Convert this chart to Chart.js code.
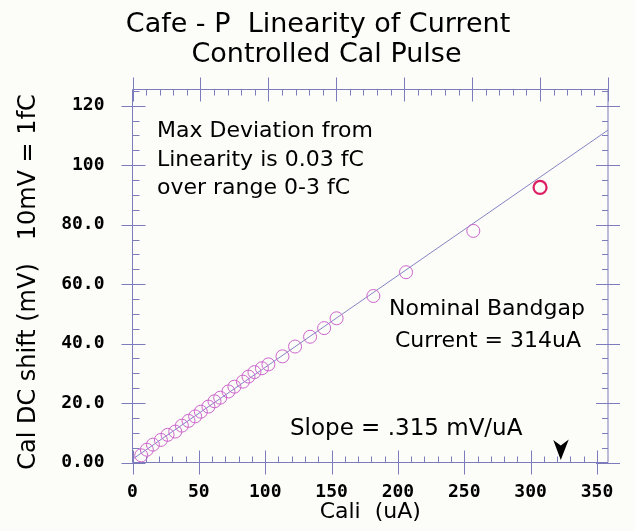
<!DOCTYPE html>
<html>
<head>
<meta charset="utf-8">
<script src="https://cdn.jsdelivr.net/npm/chart.js@4.4.1/dist/chart.umd.min.js"></script>
<style>
html,body{margin:0;padding:0;background:#fcfcf8;}
canvas{display:block;}
</style>
</head>
<body>
<canvas id="c" width="635" height="531"></canvas>
<script>
// ---- text ----
const titleLines = ['Cafe - P  Linearity of Current', 'Controlled Cal Pulse'];
const xTitle = 'Cali  (uA)';
const yTitle = 'Cal DC shift (mV)   10mV = 1fC';
const noteDeviation = ['Max Deviation from', 'Linearity is 0.03 fC', 'over range 0-3 fC'];
const noteBandgap = ['Nominal Bandgap', 'Current = 314uA'];
const noteSlope = ['Slope = .315 mV/uA'];

// ---- axes ----
const xMin = 0, xMax = 358.3;
const yMin = 0, yMax = 125.45;
const xTickValues = [0, 50, 100, 150, 200, 250, 300, 350];
const xTickLabels = ['0', '50', '100', '150', '200', '250', '300', '350'];
const yTickValues = [0, 20, 40, 60, 80, 100, 120];
const yTickLabels = ['0.00', '20.0', '40.0', '60.0', '80.0', '100', '120'];
const xMinorStep = 10;
const yMinorStep = 5;
const topAxisMax = 7;
const topMinorStep = 0.2;

// ---- data ----
const caliCurrent = [6.6, 10.8, 15.4, 21.4, 26.4, 32.2, 37.2, 42.2, 47.2, 51.5, 57.2, 61.8, 66.1, 72.3, 76.8, 83.2, 87.4, 91.9, 97.5, 102.4, 113.0, 122.5, 133.8, 144.4, 153.8, 181.5, 206.1, 256.8, 307.1];
const dcShift     = [2.4, 4.3, 6.0, 7.6, 9.3, 10.4, 12.4, 14.0, 15.5, 17.1, 18.8, 20.6, 21.8, 23.9, 25.5, 27.2, 28.9, 30.4, 31.7, 33.0, 35.7, 39.0, 42.3, 45.2, 48.5, 56.0, 64.0, 77.9, 92.5];
const fitCurrent = [0, 358.3];
const fitShift   = [1.1, 111.8];
const bandgapArrowCurrent = [322.7];

const AXIS = '#7c7cbc';
const BG = '#fcfcf8';

const framePlugin = {
  id: 'frame',
  beforeDraw(chart) {
    const ctx = chart.ctx;
    ctx.save();
    ctx.fillStyle = BG;
    ctx.fillRect(0, 0, chart.width, chart.height);
    ctx.restore();
  },
  beforeDatasetsDraw(chart) {
    const {ctx, chartArea: a, scales} = chart;
    const xs = scales.x, ys = scales.y, xt = scales.x2;
    ctx.save();
    ctx.strokeStyle = AXIS;
    ctx.lineWidth = 1;
    ctx.beginPath();
    ctx.moveTo(a.left, a.top); ctx.lineTo(a.left, a.bottom);
    ctx.moveTo(a.left, a.bottom); ctx.lineTo(a.right, a.bottom);
    ctx.moveTo(a.left, a.top); ctx.lineTo(a.right, a.top);
    ctx.moveTo(a.right, a.top); ctx.lineTo(a.right, a.bottom);
    ys.ticks.forEach(t => {
      const p = Math.round(ys.getPixelForValue(t.value)) + 0.5;
      ctx.moveTo(a.left - 11, p); ctx.lineTo(a.left + 13, p);
      ctx.moveTo(a.right - 12, p); ctx.lineTo(a.right + 12, p);
    });
    for (let v = yMin; v <= yMax + 1e-9; v += yMinorStep) {
      if (yTickValues.includes(v)) continue;
      const p = Math.round(ys.getPixelForValue(v)) + 0.5;
      ctx.moveTo(a.left, p); ctx.lineTo(a.left + 7, p);
      ctx.moveTo(a.right - 6, p); ctx.lineTo(a.right, p);
    }
    xs.ticks.forEach(t => {
      const p = Math.round(xs.getPixelForValue(t.value)) + 0.5;
      ctx.moveTo(p, a.bottom - 12); ctx.lineTo(p, a.bottom + 12);
    });
    for (let v = xMin; v <= xMax + 1e-9; v += xMinorStep) {
      if (xTickValues.includes(v)) continue;
      const p = Math.round(xs.getPixelForValue(v)) + 0.5;
      ctx.moveTo(p, a.bottom - 6); ctx.lineTo(p, a.bottom);
    }
    xt.ticks.forEach(t => {
      const p = Math.round(xt.getPixelForValue(t.value)) + 0.5;
      ctx.moveTo(p, a.top - 12); ctx.lineTo(p, a.top + 12);
    });
    for (let k = 0; k * topMinorStep <= topAxisMax + 1e-9; k++) {
      if (k % 5 === 0) continue;
      const p = Math.round(xt.getPixelForValue(k * topMinorStep)) + 0.5;
      ctx.moveTo(p, a.top); ctx.lineTo(p, a.top + 6);
    }
    ctx.stroke();
    ctx.restore();
  },
  afterDatasetsDraw(chart) {
    const {ctx, scales} = chart;
    ctx.save();
    ctx.fillStyle = '#000';
    bandgapArrowCurrent.forEach(c => {
      const x = scales.x.getPixelForValue(c);
      const tip = scales.y.getPixelForValue(0) - 2.5;
      ctx.beginPath();
      ctx.moveTo(x, tip);
      ctx.lineTo(x - 7.5, tip - 20);
      ctx.lineTo(x, tip - 14.5);
      ctx.lineTo(x + 8, tip - 20.5);
      ctx.closePath();
      ctx.fill();
    });
    ctx.restore();
  },
  afterDraw(chart) {
    const {ctx, chartArea: a} = chart;
    ctx.save();
    ctx.fillStyle = '#000';
    ctx.textBaseline = 'alphabetic';
    ctx.font = '27px "DejaVu Sans"';
    ctx.textAlign = 'center';
    ctx.fillText(titleLines[0], 318, 31.5);
    ctx.fillText(titleLines[1], 326.5, 61.5);
    ctx.textAlign = 'left';
    ctx.font = '22px "DejaVu Sans"';
    noteDeviation.forEach((s, i) => ctx.fillText(s, 157, 137 + i * 28.5));
    ctx.fillText(noteBandgap[0], 389, 315);
    ctx.fillText(noteBandgap[1], 395, 346.5);
    ctx.font = '23px "DejaVu Sans"';
    ctx.fillText(noteSlope[0], 290, 435);
    ctx.font = '24px "DejaVu Sans"';
    ctx.translate(35, (a.top + a.bottom) / 2 + 6);
    ctx.rotate(-Math.PI / 2);
    ctx.textAlign = 'center';
    ctx.fillText(yTitle, 0, 0);
    ctx.restore();
  }
};

const tickFont = {family: "'DejaVu Sans Mono'", weight: 'bold', size: 18};

new Chart(document.getElementById('c'), {
  data: {
    datasets: [
      {
        type: 'line',
        data: fitCurrent.map((x, i) => ({x, y: fitShift[i]})),
        borderColor: '#8484c4',
        borderWidth: 1,
        pointRadius: 0,
        fill: false,
        order: 2
      },
      {
        type: 'scatter',
        data: caliCurrent.map((x, i) => ({x, y: dcShift[i]})),
        pointRadius: 6.5,
        pointBackgroundColor: 'rgba(0,0,0,0)',
        pointBorderColor: c => c.dataIndex === caliCurrent.length - 1 ? '#dc1e64' : '#cc66cc',
        pointBorderWidth: c => c.dataIndex === caliCurrent.length - 1 ? 2.2 : 1,
        order: 1
      }
    ]
  },
  options: {
    responsive: false,
    devicePixelRatio: 1,
    animation: false,
    events: [],
    layout: {padding: {left: 0, right: 27, top: 89.5, bottom: 0}},
    plugins: {legend: {display: false}, tooltip: {enabled: false}, title: {display: false}},
    scales: {
      x: {
        type: 'linear', position: 'bottom', min: xMin, max: xMax,
        afterBuildTicks: s => { s.ticks = xTickValues.map(v => ({value: v})); },
        ticks: {callback: (v, i) => xTickLabels[i], font: tickFont, color: '#000', padding: 19, maxRotation: 0, autoSkip: false},
        grid: {display: false, drawTicks: false}, border: {display: false},
        title: {display: true, text: xTitle, color: '#000', font: {family: "'DejaVu Sans'", size: 22}, padding: {top: 0, bottom: 6}},
        afterFit: s => { s.height = 68.5; s.paddingLeft = 0; s.paddingRight = 0; }
      },
      x2: {
        type: 'linear', position: 'top', min: 0, max: topAxisMax,
        ticks: {display: false, stepSize: 1},
        grid: {display: false, drawTicks: false}, border: {display: false},
        afterFit: s => { s.height = 0; s.paddingLeft = 0; s.paddingRight = 0; }
      },
      y: {
        type: 'linear', position: 'left', min: yMin, max: yMax,
        afterBuildTicks: s => { s.ticks = yTickValues.map(v => ({value: v})); },
        ticks: {callback: (v, i) => yTickLabels[i], font: tickFont, color: '#000', padding: 28, autoSkip: false},
        grid: {display: false, drawTicks: false}, border: {display: false},
        afterFit: s => { s.width = 132.5; s.paddingTop = 0; s.paddingBottom = 0; }
      }
    }
  },
  plugins: [framePlugin]
});
</script>
</body>
</html>
